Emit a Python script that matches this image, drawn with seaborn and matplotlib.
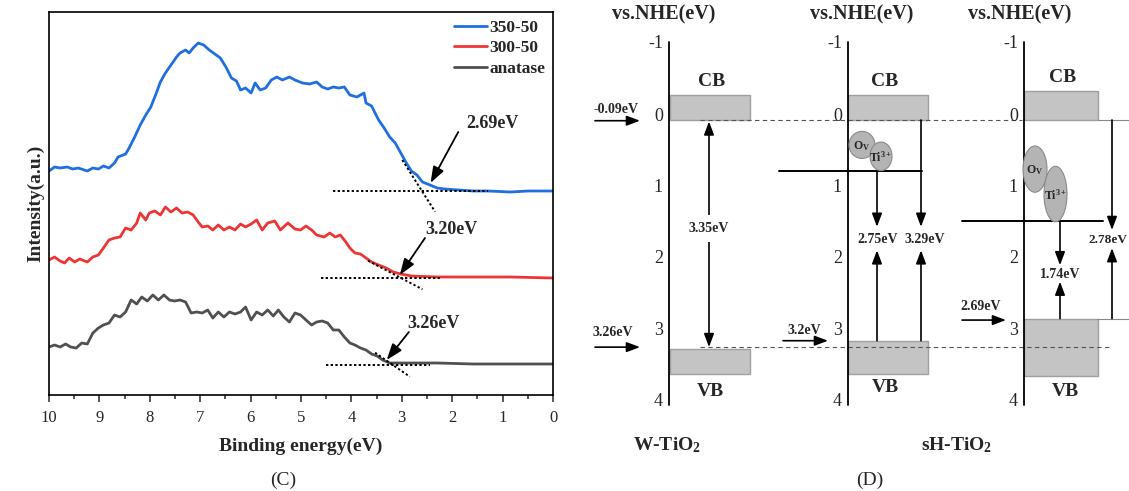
import matplotlib
matplotlib.use("Agg")
import matplotlib.pyplot as plt
from matplotlib.patches import Rectangle, Ellipse
from matplotlib.ticker import MultipleLocator
import pandas as pd
import seaborn as sns

sns.set_theme(style="white")
plt.rcParams["font.family"] = ["Liberation Serif", "DejaVu Serif"]
plt.rcParams["mathtext.default"] = "regular"

# ---------------- panel C: VB-XPS spectra ----------------
energy_350 = [10.0, 9.89, 9.78, 9.64, 9.53, 9.42, 9.24, 9.13, 9.02, 8.92, 8.81, 8.70, 8.63, 8.48, 8.41,
              8.30, 8.19, 8.08, 7.98, 7.87, 7.79, 7.69, 7.58, 7.47, 7.40, 7.29, 7.22, 7.14, 7.04, 6.93,
              6.82, 6.71, 6.60, 6.49, 6.38, 6.28, 6.20, 6.10, 5.99, 5.91, 5.81, 5.70, 5.59, 5.48, 5.37,
              5.23, 5.12, 4.97, 4.83, 4.69, 4.58, 4.47, 4.36, 4.25, 4.14, 4.03, 3.89, 3.75, 3.71, 3.60,
              3.46, 3.35, 3.24, 3.13, 3.02, 2.91, 2.81, 2.70, 2.59, 2.44, 2.30, 2.15, 1.87, 1.58, 1.29,
              0.85, 0.49, 0.0]
int_350 = [224, 228, 227, 228, 226, 227, 224, 227, 226, 229, 227, 232, 238, 241, 247, 258, 270, 280,
           288, 302, 313, 322, 330, 338, 342, 345, 342, 347, 352, 350, 345, 341, 337, 328, 317, 314,
           305, 307, 302, 312, 305, 307, 315, 318, 315, 318, 315, 312, 311, 313, 308, 306, 308, 307,
           308, 300, 298, 302, 292, 289, 275, 267, 258, 252, 242, 232, 224, 220, 213, 210, 207, 206,
           205, 204, 204, 203, 204, 204]

energy_300 = [10.0, 9.89, 9.78, 9.69, 9.60, 9.49, 9.39, 9.24, 9.13, 9.02, 8.92, 8.81, 8.70, 8.59, 8.48,
              8.37, 8.26, 8.19, 8.08, 8.01, 7.90, 7.79, 7.69, 7.58, 7.47, 7.36, 7.25, 7.14, 7.04, 6.96,
              6.85, 6.75, 6.64, 6.53, 6.42, 6.31, 6.20, 6.10, 5.99, 5.88, 5.77, 5.66, 5.52, 5.41, 5.26,
              5.12, 5.01, 4.90, 4.79, 4.69, 4.54, 4.43, 4.32, 4.22, 4.11, 4.03, 3.93, 3.82, 3.71, 3.60,
              3.46, 3.31, 3.17, 3.02, 2.81, 2.30, 1.58, 0.85, 0.0]
int_300 = [135, 138, 134, 132, 137, 133, 136, 133, 138, 140, 147, 155, 157, 158, 167, 165, 172, 182,
           175, 182, 184, 180, 188, 183, 187, 182, 183, 180, 173, 168, 169, 165, 170, 165, 168, 165,
           171, 168, 171, 175, 165, 172, 174, 165, 172, 166, 165, 169, 165, 160, 158, 162, 158, 160,
           153, 147, 142, 141, 137, 133, 130, 127, 123, 121, 119, 118, 118, 118, 117]

energy_ana = [10.0, 9.89, 9.78, 9.67, 9.57, 9.46, 9.35, 9.24, 9.13, 9.02, 8.92, 8.81, 8.70, 8.59, 8.48,
              8.37, 8.26, 8.16, 8.05, 7.94, 7.83, 7.72, 7.61, 7.51, 7.40, 7.29, 7.18, 7.07, 6.96, 6.85,
              6.75, 6.64, 6.53, 6.42, 6.31, 6.20, 6.10, 5.99, 5.88, 5.77, 5.66, 5.55, 5.45, 5.34, 5.23,
              5.12, 5.01, 4.90, 4.79, 4.69, 4.58, 4.47, 4.36, 4.25, 4.14, 4.03, 3.93, 3.82, 3.71, 3.60,
              3.49, 3.38, 3.24, 3.02, 2.30, 1.58, 0.85, 0.0]
int_ana = [48, 50, 48, 51, 48, 47, 52, 51, 62, 67, 70, 72, 80, 78, 83, 95, 91, 98, 94, 100, 95, 100,
           95, 94, 95, 93, 82, 83, 82, 85, 77, 83, 78, 83, 81, 83, 88, 75, 83, 80, 85, 79, 85, 78, 73,
           82, 80, 75, 70, 73, 74, 72, 65, 65, 58, 52, 50, 47, 45, 41, 39, 35, 32, 32, 32, 31, 31, 31]

samples = ["350-50", "300-50", "anatase"]
colors = {"350-50": "#1f6fe0", "300-50": "#ee3535", "anatase": "#505050"}

# extrapolation lines: (baseline e0, e1, level), (tangent e0, i0, e1, i1)
baselines = [(4.36, 1.29, 204.3), (4.61, 2.23, 117.3), (4.50, 2.44, 30.3)]
tangents = [(2.99, 235.0, 2.34, 183.3), (3.67, 134.3, 2.59, 105.7), (3.53, 42.3, 2.84, 18.3)]
gap_labels = ["2.69eV", "3.20eV", "3.26eV"]
gap_text_pos = [(1.21, 272), (2.01, 165), (2.37, 72)]
gap_arrow_from = [(1.88, 263), (2.54, 157), (2.86, 63)]
gap_arrow_to = [(2.43, 212), (3.04, 120), (3.30, 35)]

# ---------------- panel D: band diagram ----------------
cb_top = [-0.35, -0.35, -0.41]
cb_bottom = [0.0, 0.0, 0.0]
vb_top = [3.21, 3.10, 2.79]
vb_bottom = [3.57, 3.57, 3.59]
defect_level = [None, 0.72, 1.42]
scale_ticks = [-1, 0, 1, 2, 3, 4]

W, H = 1129, 491
fig = plt.figure(figsize=(W / 100, H / 100), dpi=100)

# ----- panel C -----
ax = fig.add_axes([49 / W, 1 - 395 / H, (553 - 49) / W, (395 - 12) / H])
frames = []
for name, e, i in [("350-50", energy_350, int_350), ("300-50", energy_300, int_300),
                   ("anatase", energy_ana, int_ana)]:
    frames.append(pd.DataFrame({"energy": e, "intensity": i, "sample": name}))
df = pd.concat(frames, ignore_index=True)
sns.lineplot(data=df, x="energy", y="intensity", hue="sample", hue_order=samples,
             palette=colors, estimator=None, lw=2.0, ax=ax)

for (b0, b1, lev), (t0, i0, t1, i1) in zip(baselines, tangents):
    ax.plot([b0, b1], [lev, lev], color="black", ls=(0, (1.2, 1.2)), lw=1.4, zorder=4)
    ax.plot([t0, t1], [i0, i1], color="black", ls=(0, (1.2, 1.2)), lw=1.4, zorder=4)
for lab, tp, af, at in zip(gap_labels, gap_text_pos, gap_arrow_from, gap_arrow_to):
    ax.text(tp[0], tp[1], lab, ha="center", va="center", fontsize=13, fontweight="bold")
    ax.annotate("", xy=at, xytext=af,
                arrowprops=dict(arrowstyle="-|>,head_length=0.7,head_width=0.25", color="black",
                                lw=1.3, shrinkA=0, shrinkB=0, mutation_scale=14))

ax.set_xlim(10, 0)
ax.set_ylim(0, 383)
ax.xaxis.set_major_locator(MultipleLocator(1))
ax.xaxis.set_minor_locator(MultipleLocator(0.5))
ax.tick_params(axis="x", which="major", direction="out", length=5, width=1.1, labelsize=12, pad=6,
               bottom=True)
ax.tick_params(axis="x", which="minor", direction="out", length=3, width=1.1, bottom=True)
ax.set_yticks([])
for sp in ax.spines.values():
    sp.set_color("black")
    sp.set_linewidth(1.2)
ax.set_xlabel("Binding energy(eV)", fontsize=14, fontweight="bold", labelpad=8)
ax.set_ylabel("Intensity(a.u.)", fontsize=14, fontweight="bold", labelpad=3)
ax.legend(loc="upper right", frameon=False, prop={"weight": "bold", "size": 12.5},
          handlelength=1.9, handletextpad=0.15, labelspacing=0.25, borderaxespad=0.05)
fig.text(283 / W, 1 - 480 / H, "(C)", ha="center", va="center", fontsize=14)

# ----- panel D -----
PX0, PX_PER_EV = 120, 71.2  # pixel row of 0 eV and scale of the drawing
axd = fig.add_axes([575 / W, 0, (W - 575) / W, 1])
axd.set_xlim(575, W)
axd.set_ylim((H - PX0) / PX_PER_EV, -PX0 / PX_PER_EV)
axd.axis("off")

axis_x = [669, 848, 1024]
box_x = [(670, 750), (848, 928), (1024, 1098)]
header_x = [664, 862, 1020]
cb_label = [(712, -0.54), (885, -0.54), (1063, -0.59)]
vb_label = [(710, 3.82), (885, 3.76), (1065, 3.82)]
box_face, box_edge = "#c4c4c4", "#a0a0a0"

for k in range(3):
    ax_x = axis_x[k]
    axd.plot([ax_x, ax_x], [-1.1, 4.0], color="black", lw=1.3, zorder=3)
    axd.text(header_x[k], -1.48, "vs.NHE(eV)", ha="center", va="center", fontsize=14.5,
             fontweight="bold")
    for t in scale_ticks:
        yy = t - 0.08 if t == -1 else t - 0.05
        axd.text(ax_x - 6, yy, str(t), ha="right", va="center", fontsize=13)
    x0, x1 = box_x[k]
    axd.add_patch(Rectangle((x0, cb_top[k]), x1 - x0, cb_bottom[k] - cb_top[k],
                            facecolor=box_face, edgecolor=box_edge, lw=1.0, zorder=2))
    axd.add_patch(Rectangle((x0, vb_top[k]), x1 - x0, vb_bottom[k] - vb_top[k],
                            facecolor=box_face, edgecolor=box_edge, lw=1.0, zorder=2))
    axd.text(*cb_label[k], "CB", ha="center", va="center", fontsize=14, fontweight="bold")
    axd.text(*vb_label[k], "VB", ha="center", va="center", fontsize=14, fontweight="bold")

# dashed reference lines at CB (0 eV) and VB (3.2 eV) of W-TiO2
axd.plot([700, 1022], [0.0, 0.0], color="#555555", ls=(0, (4, 3)), lw=0.8, zorder=2.5)
axd.plot([700, 1112], [3.19, 3.19], color="#555555", ls=(0, (4, 3)), lw=0.8, zorder=2.5)
# thin extension lines of the right diagram
axd.plot([1098, W], [0.0, 0.0], color="#888888", lw=0.8)
axd.plot([1097, W], [vb_top[2], vb_top[2]], color="#888888", lw=0.8)

# defect levels
axd.plot([779, 922], [defect_level[1]] * 2, color="black", lw=1.4, zorder=3)
axd.plot([962, 1103], [defect_level[2]] * 2, color="black", lw=1.4, zorder=3)

# defect ellipses: (x, eV, width px, height eV, label)
ellipses = [(862, 0.35, 26, 0.38, "O$_V$"), (881, 0.51, 22, 0.40, "Ti$^{3+}$"),
            (1035, 0.69, 24, 0.65, "O$_V$"), (1055.5, 1.04, 23, 0.78, "Ti$^{3+}$")]
for ex, ey, ew, eh, el in ellipses:
    axd.add_patch(Ellipse((ex, ey), ew, eh, facecolor="#b4b4b4", edgecolor="#8a8a8a", lw=0.8,
                          zorder=4))
    axd.text(ex, ey + 0.02, el, ha="center", va="center", fontsize=8.5, fontweight="bold",
             zorder=5)

arrow_kw = dict(arrowstyle="-|>,head_length=0.8,head_width=0.3", color="black", lw=1.2,
                shrinkA=0, shrinkB=0, mutation_scale=10)


def varrow(x, e0, e1):
    axd.annotate("", xy=(x, e1), xytext=(x, e0), arrowprops=arrow_kw, zorder=3)


# W-TiO2 gap arrow
axd.annotate("", xy=(709, 0.02), xytext=(709, 3.19),
             arrowprops=dict(arrowstyle="<|-|>,head_length=0.8,head_width=0.3", color="black",
                             lw=1.2, shrinkA=0, shrinkB=0, mutation_scale=10))
axd.text(709, 1.53, "3.35eV", ha="center", va="center", fontsize=10, fontweight="bold",
         bbox=dict(facecolor="white", edgecolor="none", pad=5), zorder=4)

# sH-TiO2 (first) transitions
varrow(877, defect_level[1], 1.50)
varrow(921, 0.0, 1.50)
varrow(877, vb_top[1], 1.83)
varrow(921, vb_top[1], 1.83)
axd.text(878, 1.675, "2.75eV", ha="center", va="center", fontsize=10, fontweight="bold")
axd.text(925, 1.675, "3.29eV", ha="center", va="center", fontsize=10, fontweight="bold")

# sH-TiO2 (second) transitions
varrow(1060, defect_level[2], 2.04)
varrow(1060, vb_top[2], 2.27)
varrow(1112, 0.0, 1.545)
varrow(1112, vb_top[2], 1.80)
axd.text(1060, 2.17, "1.74eV", ha="center", va="center", fontsize=10, fontweight="bold")
axd.text(1108, 1.69, "2.78eV", ha="center", va="center", fontsize=9.5, fontweight="bold",
         zorder=4)

# side arrows with band edge values
side = [("-0.09eV", 616, -0.15, 595, 640, 0.01), ("3.26eV", 613, 2.98, 595, 640, 3.19),
        ("3.2eV", 804, 2.95, 783, 828, 3.10), ("2.69eV", 981, 2.62, 962, 1006, 2.81)]
for lab, tx, ty, ax0, ax1, ay in side:
    axd.text(tx, ty, lab, ha="center", va="center", fontsize=10, fontweight="bold")
    axd.annotate("", xy=(ax1, ay), xytext=(ax0, ay), arrowprops=arrow_kw)

axd.text(667, (445 - PX0) / PX_PER_EV, "W-TiO$_2$", ha="center", va="center", fontsize=14,
         fontweight="bold")
axd.text(957, (445 - PX0) / PX_PER_EV, "sH-TiO$_2$", ha="center", va="center", fontsize=14,
         fontweight="bold")
axd.text(870, (480 - PX0) / PX_PER_EV, "(D)", ha="center", va="center", fontsize=14)

fig.savefig("out.png", dpi=100)
